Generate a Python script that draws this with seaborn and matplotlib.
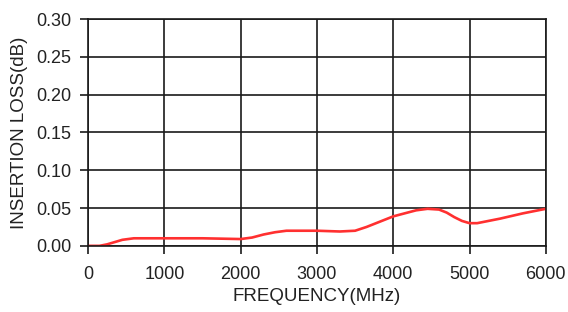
import seaborn as sns
import pandas as pd
import numpy as np
import matplotlib
matplotlib.use('Agg')
import matplotlib.pyplot as plt

sns.set_style('ticks')
plt.rcParams['font.family'] = ['Liberation Sans', 'DejaVu Sans']

# values
freq = [0, 150, 250, 350, 450, 600, 800, 1000, 1500, 2000, 2150, 2300, 2450, 2600, 2800,
        3000, 3300, 3500, 3650, 3800, 4000, 4150, 4300, 4450, 4600, 4700, 4800, 4900,
        5000, 5100, 5250, 5400, 5700, 6000]
loss = [0.000, 0.000, 0.002, 0.005, 0.008, 0.010, 0.010, 0.010, 0.010, 0.009, 0.011,
        0.015, 0.018, 0.020, 0.020, 0.020, 0.019, 0.020, 0.025, 0.031, 0.039, 0.043,
        0.047, 0.049, 0.048, 0.044, 0.038, 0.033, 0.030, 0.030, 0.033, 0.036, 0.043,
        0.049]
xticks = [0, 1000, 2000, 3000, 4000, 5000, 6000]
yticks = [0.00, 0.05, 0.10, 0.15, 0.20, 0.25, 0.30]

df = pd.DataFrame({'freq': freq, 'loss': loss})

fig = plt.figure(figsize=(5.68, 3.12), dpi=100)
ax = fig.add_axes([0.155, 0.212, 0.806, 0.727])
sns.lineplot(data=df, x='freq', y='loss', ax=ax, color='#ff3030', linewidth=1.9)

ax.set_xlim(0, 6000)
ax.set_ylim(0, 0.30)
ax.set_xticks(xticks)
ax.set_yticks(yticks)
ax.set_yticklabels([f'{v:.2f}' for v in yticks])
ax.grid(True, color='#1a1a1a', linewidth=1.2)
for s in ax.spines.values():
    s.set_visible(True)
    s.set_color('#1a1a1a')
    s.set_linewidth(1.2)
ax.tick_params(axis='both', direction='out', length=6, width=1.2, color='#1a1a1a',
               labelsize=13, labelcolor='#222222', left=True, bottom=True)
ax.tick_params(axis='x', pad=8.5)
ax.tick_params(axis='y', pad=6)
ax.set_xlabel('FREQUENCY(MHz)', fontsize=13.5, color='#222222', labelpad=3.5)
ax.set_ylabel('INSERTION LOSS(dB)', fontsize=13.5, color='#222222', labelpad=6)

fig.savefig('out.png', dpi=100)
